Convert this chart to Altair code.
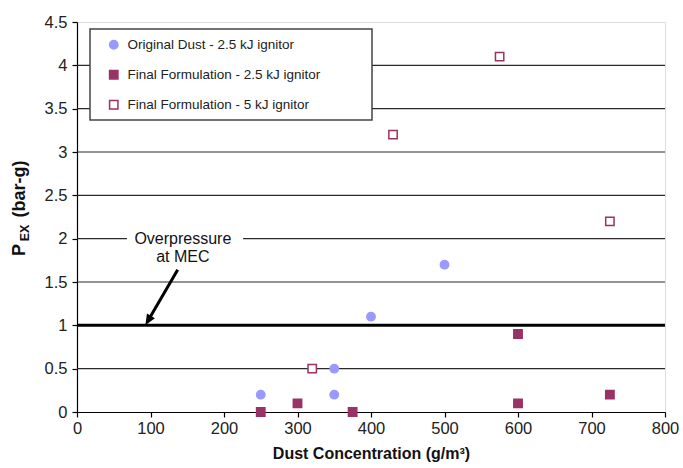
import altair as alt
import pandas as pd

# ---------------- data ----------------
series_names = [
    "Original Dust - 2.5 kJ ignitor",
    "Final Formulation - 2.5 kJ ignitor",
    "Final Formulation - 5 kJ ignitor",
]
orig_x = [250, 350, 350, 400, 500]
orig_y = [0.2, 0.5, 0.2, 1.1, 1.7]
ff25_x = [250, 300, 375, 600, 600, 725]
ff25_y = [0.0, 0.1, 0.0, 0.9, 0.1, 0.2]
ff5_x = [320, 430, 575, 725]
ff5_y = [0.5, 3.2, 4.1, 2.2]

x_ticks = [0, 100, 200, 300, 400, 500, 600, 700, 800]
y_ticks = [0, 0.5, 1, 1.5, 2, 2.5, 3, 3.5, 4, 4.5]
grid_values = [0.5, 1.5, 2.0, 2.5, 3.0, 3.5, 4.0]
mec_value = [1.0]

annotation_text = ["Overpressure", "at MEC"]
annotation_pos = [144, 2.0]
annotation_gap = [68, 226, 1.96, 2.04]
arrow_start = [137, 1.64]
arrow_tip = [93, 1.0]
arrow_line_end = [97, 1.06]

fill_colors = ["#9999FF", "#993366", "#FFFFFF"]
stroke_colors = ["#9999FF", "#993366", "#993366"]
shapes = ["circle", "square", "square"]

FONT = "Liberation Sans"

# ---------------- tables ----------------
pts = pd.DataFrame(
    {
        "x": orig_x + ff25_x + ff5_x,
        "y": orig_y + ff25_y + ff5_y,
        "series": [series_names[0]] * len(orig_x)
        + [series_names[1]] * len(ff25_x)
        + [series_names[2]] * len(ff5_x),
    }
)

xs = alt.Scale(domain=[0, 800], nice=False, zero=True)
ys = alt.Scale(domain=[0, 4.5], nice=False, zero=True)

xaxis = alt.Axis(
    values=x_ticks,
    title="Dust Concentration (g/m³)",
    titleFont=FONT,
    titleFontSize=16,
    titleFontWeight="bold",
    titleColor="#111111",
    titlePadding=9,
    labelFont=FONT,
    labelFontSize=16.5,
    labelColor="#222222",
    labelPadding=3,
    domainColor="#000000",
    domainWidth=1.2,
    tickColor="#000000",
    tickSize=5,
    tickWidth=1.2,
    grid=False,
    labelFlush=False,
)
yaxis = alt.Axis(
    values=y_ticks,
    format="~g",
    title=None,
    labelFont=FONT,
    labelFontSize=16.5,
    labelColor="#222222",
    labelPadding=5,
    domainColor="#000000",
    domainWidth=1.2,
    tickColor="#000000",
    tickSize=5,
    tickWidth=1.2,
    grid=False,
    labelFlush=False,
)


def X(f):
    return alt.X(f, type="quantitative", scale=xs, axis=xaxis)


def Y(f):
    return alt.Y(f, type="quantitative", scale=ys, axis=yaxis)


grid = (
    alt.Chart(pd.DataFrame({"g": grid_values}))
    .mark_rule(color="#2a2a2a", strokeWidth=1.2)
    .encode(y=Y("g"), x=alt.value(0), x2=alt.value(588))
)

mec = (
    alt.Chart(pd.DataFrame({"g": mec_value}))
    .mark_rule(color="#000000", strokeWidth=3)
    .encode(y=Y("g"), x=alt.value(0), x2=alt.value(588))
)

gap = (
    alt.Chart(
        pd.DataFrame(
            {
                "x": [annotation_gap[0]],
                "x2": [annotation_gap[1]],
                "y": [annotation_gap[2]],
                "y2": [annotation_gap[3]],
            }
        )
    )
    .mark_rect(color="#FFFFFF")
    .encode(x=X("x"), x2="x2", y=Y("y"), y2="y2")
)

ann = (
    alt.Chart(
        pd.DataFrame(
            {"x": [annotation_pos[0]], "y": [annotation_pos[1]], "t": ["\n".join(annotation_text)]}
        )
    )
    .mark_text(
        font=FONT,
        fontSize=16,
        color="#111111",
        align="center",
        baseline="middle",
        lineBreak="\n",
        lineHeight=18,
    )
    .encode(x=X("x"), y=Y("y"), text="t:N")
)

arrow_line = (
    alt.Chart(
        pd.DataFrame(
            {
                "x": [arrow_start[0]],
                "y": [arrow_start[1]],
                "x2": [arrow_line_end[0]],
                "y2": [arrow_line_end[1]],
            }
        )
    )
    .mark_rule(color="#000000", strokeWidth=3)
    .encode(x=X("x"), y=Y("y"), x2="x2", y2="y2")
)

arrow_head = (
    alt.Chart(pd.DataFrame({"x": [arrow_tip[0]], "y": [arrow_tip[1]]}))
    .mark_point(
        shape="M0,0L-0.42,-1L0.42,-1Z",
        size=480,
        angle=30.6,
        filled=True,
        color="#000000",
        opacity=1,
    )
    .encode(x=X("x"), y=Y("y"))
)

legend_box = (
    alt.Chart(pd.DataFrame({"a": [0]}))
    .mark_rect(fill="#FFFFFF", stroke="#444444", strokeWidth=1.5)
    .encode(x=alt.value(13), x2=alt.value(295), y=alt.value(7), y2=alt.value(98))
)

leg = alt.Legend(
    title=None,
    orient="none",
    legendX=30,
    legendY=16,
    padding=0,
    rowPadding=15,
    labelFont=FONT,
    labelFontSize=13.5,
    labelColor="#222222",
    labelOffset=7,
    labelLimit=400,
    symbolSize=70,
    symbolStrokeWidth=1.5,
    symbolOpacity=1,
)

points = (
    alt.Chart(pts)
    .mark_point(size=70, strokeWidth=1.5, opacity=1, fillOpacity=1)
    .encode(
        x=X("x"),
        y=Y("y"),
        shape=alt.Shape(
            "series:N", scale=alt.Scale(domain=series_names, range=shapes), legend=leg
        ),
        fill=alt.Fill(
            "series:N", scale=alt.Scale(domain=series_names, range=fill_colors), legend=leg
        ),
        stroke=alt.Stroke(
            "series:N", scale=alt.Scale(domain=series_names, range=stroke_colors), legend=leg
        ),
    )
)

t_p = (
    alt.Chart(pd.DataFrame({"t": ["P"]}))
    .mark_text(font=FONT, fontSize=18, fontWeight="bold", angle=270, color="#111111",
               align="center", baseline="middle")
    .encode(text="t:N", x=alt.value(-57), y=alt.value(228))
)
t_ex = (
    alt.Chart(pd.DataFrame({"t": ["EX"]}))
    .mark_text(font=FONT, fontSize=12.5, fontWeight="bold", angle=270, color="#111111",
               align="center", baseline="middle")
    .encode(text="t:N", x=alt.value(-52), y=alt.value(211))
)
t_bar = (
    alt.Chart(pd.DataFrame({"t": ["(bar-g)"]}))
    .mark_text(font=FONT, fontSize=18, fontWeight="bold", angle=270, color="#111111",
               align="center", baseline="middle")
    .encode(text="t:N", x=alt.value(-57), y=alt.value(167))
)

chart = (
    alt.layer(grid, mec, gap, ann, arrow_line, arrow_head, legend_box, points, t_p, t_ex, t_bar)
    .properties(
        width=588,
        height=390,
        autosize=alt.AutoSizeParams(type="none"),
        padding={"left": 77, "top": 22, "right": 18, "bottom": 56},
        background="#FFFFFF",
    )
    .configure_view(stroke="#AAAAAA", strokeWidth=1.5)
    .configure(font=FONT)
)

chart.save("out.html", embed_options={"renderer": "svg", "actions": False})
